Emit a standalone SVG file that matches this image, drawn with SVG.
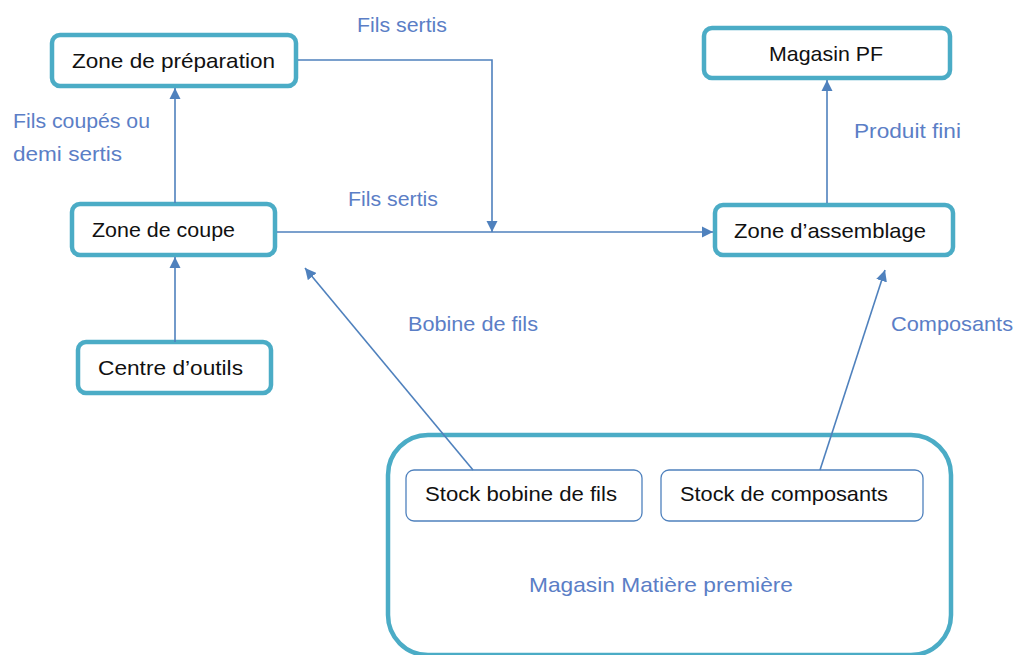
<svg xmlns="http://www.w3.org/2000/svg" width="1016" height="655" viewBox="0 0 1016 655">
<defs>
<style>
.node{fill:#fff;stroke:#4BACC6;stroke-width:4.5}
.sub{fill:#fff;stroke:#4F81BD;stroke-width:1.3}
.big{fill:#fff;stroke:#4BACC6;stroke-width:4.5}
.t{font-family:"Liberation Sans",Arial,sans-serif;font-size:21px;fill:#111}
.lbl{font-family:"Liberation Sans",Arial,sans-serif;font-size:21px;fill:#5B7EC6}
.c{fill:none;stroke:#4F81BD;stroke-width:1.6}
</style>
<marker id="ah" viewBox="0 0 10 10" refX="10" refY="5" markerWidth="7" markerHeight="7" markerUnits="strokeWidth" orient="auto">
<path d="M0,0 L10,5 L0,10 z" fill="#4F81BD"/>
</marker>
</defs>
<rect width="1016" height="655" fill="#fff"/>

<g id="magasin-mp">
<rect class="big" x="388" y="435" width="563" height="220" rx="40"/>
<text class="lbl" x="529" y="592" textLength="264" lengthAdjust="spacingAndGlyphs">Magasin Matière première</text>
</g>

<g id="zone-preparation">
<rect class="node" x="52" y="35" width="244" height="51" rx="8"/>
<text class="t" x="72" y="68" textLength="203" lengthAdjust="spacingAndGlyphs">Zone de préparation</text>
</g>
<g id="zone-coupe">
<rect class="node" x="72" y="204" width="203" height="51" rx="8"/>
<text class="t" x="92" y="237" textLength="143" lengthAdjust="spacingAndGlyphs">Zone de coupe</text>
</g>
<g id="centre-outils">
<rect class="node" x="78" y="342" width="193" height="51" rx="8"/>
<text class="t" x="98" y="375" textLength="145" lengthAdjust="spacingAndGlyphs">Centre d’outils</text>
</g>
<g id="magasin-pf">
<rect class="node" x="704" y="28" width="246" height="50" rx="8"/>
<text class="t" x="769" y="61" textLength="114" lengthAdjust="spacingAndGlyphs">Magasin PF</text>
</g>
<g id="zone-assemblage">
<rect class="node" x="715" y="205" width="238" height="50" rx="8"/>
<text class="t" x="734" y="238" textLength="192" lengthAdjust="spacingAndGlyphs">Zone d’assemblage</text>
</g>
<g id="stock-bobine">
<rect class="sub" x="406" y="470" width="236" height="51" rx="8"/>
<text class="t" x="425" y="501" textLength="192" lengthAdjust="spacingAndGlyphs">Stock bobine de fils</text>
</g>
<g id="stock-composants">
<rect class="sub" x="661" y="470" width="262" height="51" rx="8"/>
<text class="t" x="680" y="501" textLength="208" lengthAdjust="spacingAndGlyphs">Stock de composants</text>
</g>

<g id="connectors">
<line class="c" x1="175" y1="203" x2="175" y2="88" marker-end="url(#ah)"/>
<line class="c" x1="175" y1="342" x2="175" y2="257" marker-end="url(#ah)"/>
<polyline class="c" points="298,60 492,60 492,232" marker-end="url(#ah)"/>
<line class="c" x1="277" y1="232" x2="713" y2="232" marker-end="url(#ah)"/>
<line class="c" x1="827" y1="203" x2="827" y2="80" marker-end="url(#ah)"/>
<line class="c" x1="473" y1="470" x2="305" y2="268" marker-end="url(#ah)"/>
<line class="c" x1="820" y1="470" x2="885" y2="270" marker-end="url(#ah)"/>
</g>

<g id="labels">
<text class="lbl" x="357" y="32" textLength="90" lengthAdjust="spacingAndGlyphs">Fils sertis</text>
<text class="lbl" x="13" y="128" textLength="137" lengthAdjust="spacingAndGlyphs">Fils coupés ou</text>
<text class="lbl" x="13" y="161" textLength="109" lengthAdjust="spacingAndGlyphs">demi sertis</text>
<text class="lbl" x="348" y="206" textLength="90" lengthAdjust="spacingAndGlyphs">Fils sertis</text>
<text class="lbl" x="854" y="138" textLength="107" lengthAdjust="spacingAndGlyphs">Produit fini</text>
<text class="lbl" x="408" y="331" textLength="130" lengthAdjust="spacingAndGlyphs">Bobine de fils</text>
<text class="lbl" x="891" y="331" textLength="122" lengthAdjust="spacingAndGlyphs">Composants</text>
</g>
</svg>
